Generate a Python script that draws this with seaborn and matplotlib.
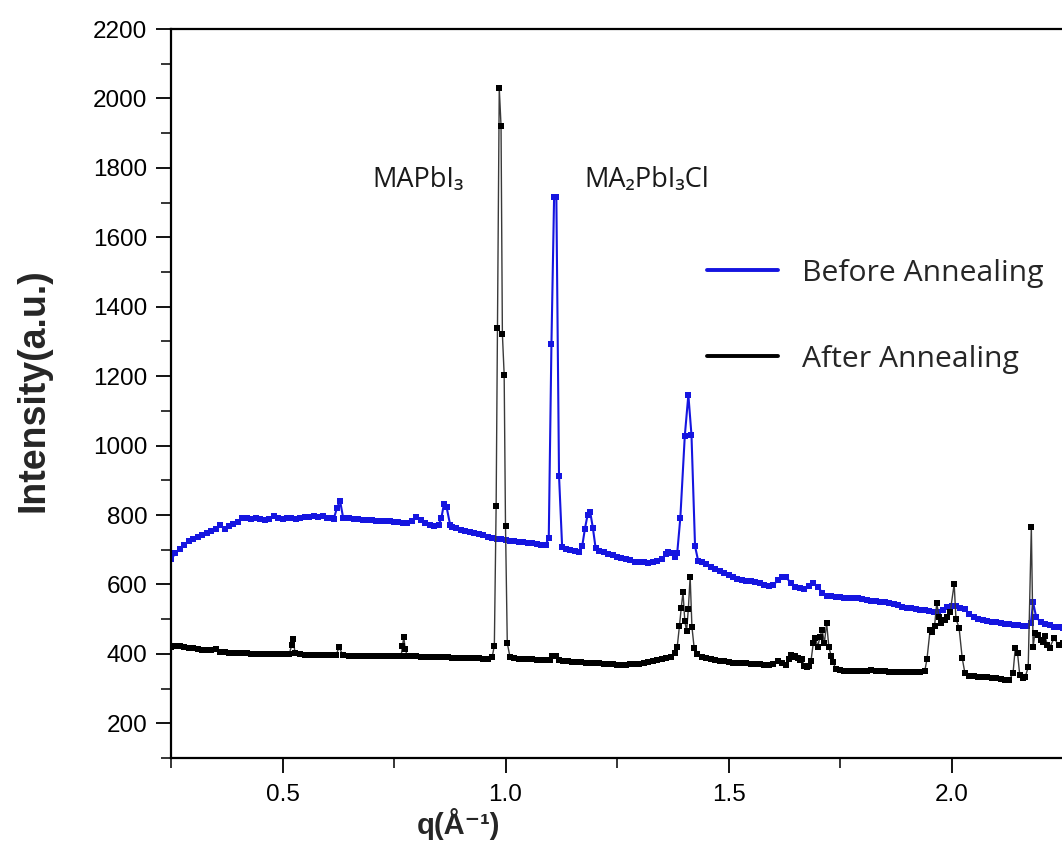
import matplotlib
matplotlib.use("Agg")
import matplotlib.pyplot as plt
from matplotlib.lines import Line2D
from matplotlib.ticker import MultipleLocator
import seaborn as sns
import pandas as pd

# ---- data ----
before_q = [0.25, 0.26, 0.27, 0.28, 0.29, 0.30, 0.31, 0.32, 0.33, 0.34, 0.35, 0.36, 0.37, 0.38, 0.39,
            0.40, 0.41, 0.42, 0.43, 0.44, 0.45, 0.46, 0.47, 0.48, 0.49, 0.50, 0.51, 0.52, 0.53, 0.54,
            0.55, 0.56, 0.57, 0.58, 0.59, 0.60, 0.61, 0.615, 0.622, 0.629, 0.636, 0.65, 0.66, 0.67,
            0.68, 0.69, 0.70, 0.71, 0.72, 0.73, 0.74, 0.75, 0.76, 0.77, 0.78, 0.79, 0.80, 0.81, 0.82,
            0.83, 0.84, 0.85, 0.856, 0.862, 0.868, 0.876, 0.88, 0.89, 0.90, 0.91, 0.92, 0.93, 0.94,
            0.95, 0.96, 0.97, 0.98, 0.99, 1.00, 1.01, 1.02, 1.03, 1.04, 1.05, 1.06, 1.07, 1.08, 1.09,
            1.097, 1.103, 1.109, 1.114, 1.12, 1.127, 1.135, 1.145, 1.155, 1.165, 1.172, 1.178, 1.184,
            1.19, 1.196, 1.202, 1.21, 1.22, 1.23, 1.24, 1.25, 1.26, 1.27, 1.28, 1.29, 1.30, 1.31, 1.32,
            1.33, 1.34, 1.35, 1.36, 1.365, 1.37, 1.38, 1.385, 1.392, 1.402, 1.41, 1.417, 1.425, 1.432,
            1.44, 1.45, 1.46, 1.47, 1.48, 1.49, 1.50, 1.51, 1.52, 1.53, 1.54, 1.55, 1.56, 1.57, 1.58,
            1.59, 1.60, 1.61, 1.62, 1.63, 1.64, 1.65, 1.66, 1.67, 1.68, 1.69, 1.70, 1.71, 1.72, 1.73,
            1.74, 1.75, 1.76, 1.77, 1.78, 1.79, 1.80, 1.81, 1.82, 1.83, 1.84, 1.85, 1.86, 1.87, 1.88,
            1.89, 1.90, 1.91, 1.92, 1.93, 1.94, 1.95, 1.96, 1.97, 1.98, 1.99, 2.00, 2.01, 2.02, 2.03,
            2.04, 2.05, 2.06, 2.07, 2.08, 2.09, 2.10, 2.11, 2.12, 2.13, 2.14, 2.15, 2.16, 2.17, 2.178,
            2.183, 2.19, 2.20, 2.21, 2.22, 2.23, 2.24, 2.25]
before_I = [672, 690, 703, 714, 724, 731, 737, 742, 748, 754, 760, 770, 761, 768, 775,
            781, 790, 791, 789, 790, 788, 787, 789, 796, 790, 789, 790, 791, 789, 792,
            793, 795, 797, 795, 796, 792, 790, 789, 820, 841, 792, 790, 789, 788,
            787, 786, 786, 784, 784, 783, 782, 780, 779, 777, 778, 784, 795, 786, 778,
            772, 769, 772, 790, 832, 822, 771, 766, 762, 758, 755, 750, 747, 744,
            741, 738, 735, 732, 730, 728, 726, 725, 723, 721, 720, 718, 716, 714, 713,
            735, 1293, 1717, 1717, 913, 708, 703, 700, 697, 694, 710, 760, 800,
            808, 762, 705, 696, 692, 688, 685, 680, 676, 673, 670, 666, 664, 664, 663,
            665, 667, 672, 688, 692, 690, 680, 690, 792, 1028, 1146, 1030, 710, 668,
            664, 660, 651, 645, 638, 632, 626, 621, 616, 612, 611, 610, 607, 603, 599,
            596, 597, 612, 622, 620, 603, 592, 589, 586, 596, 604, 594, 576, 568, 566,
            565, 563, 562, 561, 560, 560, 558, 555, 553, 551, 550, 548, 546, 545, 540,
            535, 533, 531, 529, 527, 525, 523, 522, 520, 527, 535, 538, 537, 533, 528,
            515, 505, 501, 498, 495, 493, 491, 489, 487, 485, 484, 482, 481, 480, 490,
            548, 505, 492, 486, 482, 478, 476, 474]

after_q = [0.25, 0.26, 0.27, 0.28, 0.29, 0.30, 0.31, 0.32, 0.33, 0.34, 0.35, 0.36, 0.37, 0.38, 0.39,
           0.40, 0.41, 0.42, 0.43, 0.44, 0.45, 0.46, 0.47, 0.48, 0.49, 0.50, 0.51, 0.515, 0.521, 0.524,
           0.528, 0.54, 0.55, 0.56, 0.57, 0.58, 0.59, 0.60, 0.61, 0.62, 0.627, 0.635, 0.65, 0.66,
           0.67, 0.68, 0.69, 0.70, 0.71, 0.72, 0.73, 0.74, 0.75, 0.76, 0.766, 0.769, 0.772, 0.775,
           0.78, 0.79, 0.80, 0.81, 0.82, 0.83, 0.84, 0.85, 0.86, 0.87, 0.88, 0.89, 0.90, 0.91, 0.92,
           0.93, 0.94, 0.95, 0.96, 0.97, 0.975, 0.979, 0.982, 0.986, 0.99, 0.993, 0.997, 1.000,
           1.004, 1.01, 1.02, 1.03, 1.04, 1.05, 1.06, 1.07, 1.08, 1.09, 1.10, 1.105, 1.113, 1.12,
           1.13, 1.14, 1.15, 1.16, 1.17, 1.18, 1.19, 1.20, 1.21, 1.22, 1.23, 1.24, 1.25, 1.26, 1.27,
           1.28, 1.29, 1.30, 1.31, 1.32, 1.33, 1.34, 1.35, 1.36, 1.37, 1.38, 1.385, 1.39, 1.394,
           1.398, 1.402, 1.406, 1.41, 1.414, 1.418, 1.423, 1.43, 1.44, 1.45, 1.46, 1.47, 1.48, 1.49,
           1.50, 1.51, 1.52, 1.53, 1.54, 1.55, 1.56, 1.57, 1.58, 1.59, 1.60, 1.61, 1.62, 1.63, 1.635,
           1.64, 1.645, 1.65, 1.655, 1.66, 1.665, 1.67, 1.675, 1.68, 1.685, 1.69, 1.695, 1.70, 1.705,
           1.71, 1.715, 1.72, 1.725, 1.73, 1.735, 1.74, 1.75, 1.76, 1.77, 1.78, 1.79, 1.80, 1.81,
           1.82, 1.83, 1.84, 1.85, 1.86, 1.87, 1.88, 1.89, 1.90, 1.91, 1.92, 1.93, 1.94, 1.945,
           1.952, 1.957, 1.962, 1.967, 1.972, 1.977, 1.985, 1.99, 1.997, 2.006, 2.01, 2.017, 2.024,
           2.03, 2.04, 2.05, 2.06, 2.07, 2.08, 2.09, 2.10, 2.11, 2.12, 2.13, 2.138, 2.143, 2.148,
           2.153, 2.16, 2.165, 2.172, 2.179, 2.183, 2.187, 2.194, 2.20, 2.205, 2.21, 2.215, 2.22,
           2.23, 2.24, 2.25]
after_I = [420, 422, 424, 421, 418, 416, 414, 412, 411, 410, 414, 406, 404, 403, 403,
           402, 402, 402, 401, 401, 401, 400, 400, 400, 400, 400, 400, 400, 426, 443,
           403, 399, 398, 398, 397, 397, 397, 396, 396, 396, 420, 396, 395, 395,
           395, 394, 394, 394, 394, 393, 393, 393, 393, 394, 394, 423, 449, 414,
           394, 393, 395, 392, 391, 391, 391, 390, 390, 390, 389, 389, 388, 388, 388,
           387, 387, 386, 386, 390, 424, 826, 1339, 2030, 1921, 1322, 1204, 769,
           431, 391, 388, 386, 385, 384, 384, 383, 382, 382, 383, 394, 394, 381,
           380, 378, 377, 376, 376, 375, 374, 374, 373, 372, 371, 370, 369, 368, 368,
           370, 370, 372, 374, 376, 378, 381, 385, 388, 392, 402, 420, 480, 532,
           578, 495, 466, 530, 622, 478, 417, 400, 391, 387, 384, 382, 380, 378,
           376, 375, 374, 374, 373, 372, 371, 370, 369, 368, 370, 378, 373, 368, 385,
           397, 390, 395, 388, 383, 385, 365, 362, 366, 380, 430, 446, 420, 449,
           469, 431, 489, 420, 395, 377, 356, 353, 352, 352, 351, 351, 351, 352,
           354, 351, 350, 350, 349, 349, 348, 348, 348, 348, 348, 349, 350, 385,
           469, 463, 480, 547, 506, 490, 498, 505, 520, 601, 501, 475, 388,
           345, 337, 335, 334, 333, 332, 331, 330, 328, 326, 325, 345, 417, 403,
           339, 331, 332, 362, 766, 420, 460, 454, 440, 434, 450, 425, 417,
           446, 425, 430]

series_names = ["Before Annealing", "After Annealing"]
peak_labels = ["MAPbI₃", "MA₂PbI₃Cl"]
x_ticks = [0.5, 1.0, 1.5, 2.0]
y_ticks = [200, 400, 600, 800, 1000, 1200, 1400, 1600, 1800, 2000, 2200]

df_before = pd.DataFrame({"q": before_q, "I": before_I})
df_after = pd.DataFrame({"q": after_q, "I": after_I})

# ---- figure ----
sns.set_style("ticks")
plt.rcParams["font.family"] = ["Liberation Sans", "DejaVu Sans"]

W, H = 1062, 847
fig = plt.figure(figsize=(W / 100, H / 100), dpi=100)
ax = fig.add_axes([171 / W, 1 - 758 / H, (1063 - 171) / W, (758 - 29) / H])

blue = "#1515e0"
sns.lineplot(data=df_before, x="q", y="I", ax=ax, sort=False, estimator=None,
             color=blue, linewidth=1.5, marker="s", markersize=3.9,
             markeredgewidth=0, markerfacecolor=blue)
sns.lineplot(data=df_after, x="q", y="I", ax=ax, sort=False, estimator=None,
             color="#3a3a3a", linewidth=1.0, marker="s", markersize=3.7,
             markeredgewidth=0, markerfacecolor="black")

ax.set_xlim(0.25, 2.25)
ax.set_ylim(100, 2200)
ax.set_xticks(x_ticks)
ax.set_yticks(y_ticks)
ax.xaxis.set_minor_locator(MultipleLocator(0.25))
ax.yaxis.set_minor_locator(MultipleLocator(100))
ax.tick_params(which="major", direction="out", length=11, width=1.3,
               labelsize=17.5, colors="black", pad=6)
ax.tick_params(which="major", axis="x", pad=8)
ax.tick_params(which="minor", direction="out", length=7, width=1.3)
ax.set_xticklabels(["0.5", "1.0", "1.5", "2.0"])

for s in ["left", "bottom", "top"]:
    ax.spines[s].set_linewidth(1.6)
    ax.spines[s].set_color("black")
ax.spines["right"].set_visible(False)

ax.set_ylabel("Intensity(a.u.)", fontsize=27, fontweight="bold")
ax.yaxis.set_label_coords((52 - 171) / 892, 0.505)
ax.set_xlabel("q(Å⁻¹)", fontsize=21, fontweight="bold")
ax.xaxis.set_label_coords((458 - 171) / 892, (758 - 808) / 729)

txt_font = ["Open Sans", "DejaVu Sans"]
ax.text(0.804, 1765, peak_labels[0], fontsize=19.5, ha="center", va="center",
        family=txt_font, color="#1a1a1a")
ax.text(1.316, 1765, peak_labels[1], fontsize=19.5, ha="center", va="center",
        family=txt_font, color="#1a1a1a")

handles = [Line2D([], [], color=blue, linewidth=2.8),
           Line2D([], [], color="black", linewidth=2.8)]
fig.legend(handles, series_names, loc="upper left",
           bbox_to_anchor=(707 / W, 1 - 259 / H), frameon=False,
           prop={"family": txt_font, "size": 21.7}, handlelength=2.35,
           handletextpad=0.8, labelspacing=1.88, borderpad=0, borderaxespad=0)

fig.savefig("out.png", dpi=100)
